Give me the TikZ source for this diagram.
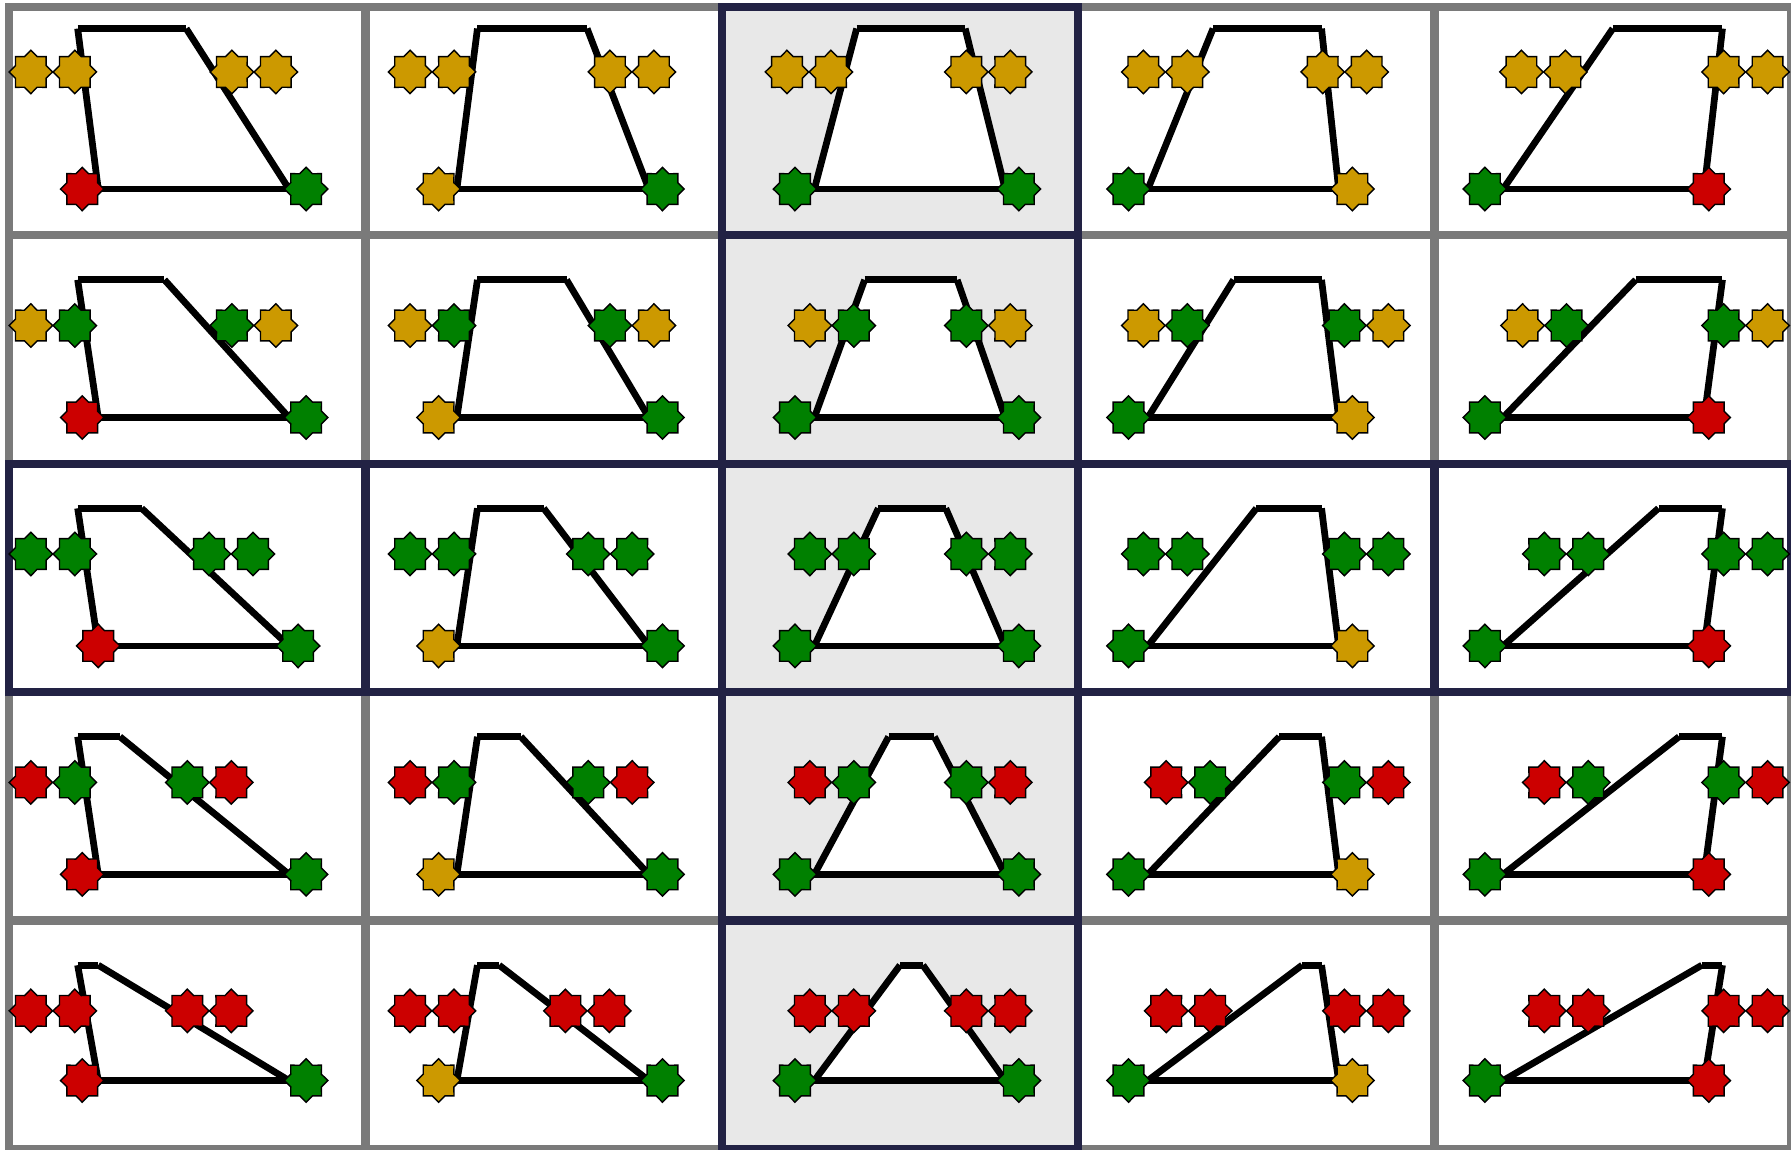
\documentclass[tikz,border=0pt]{standalone}
\usetikzlibrary{shapes.geometric}

\definecolor{lampgold}{RGB}{204,153,0}
\definecolor{lampgreen}{RGB}{0,128,0}
\definecolor{lampred}{RGB}{204,0,0}
\definecolor{framegrey}{RGB}{122,122,122}
\definecolor{framenavy}{RGB}{34,34,68}
\definecolor{colshade}{RGB}{232,232,232}

\tikzset{
  lamp/.style={star, star points=8, star point ratio=1.31, minimum size=0.38cm,
    inner sep=0pt, draw=black, line width=0.35pt, fill=#1},
  rail/.style={line width=0.059cm, black},
  frame/.style={line width=0.073cm, draw=#1},
}

\begin{document}
\begin{tikzpicture}[x=0.01cm, y=-0.01cm]
% Parameters
\def\cellw{312}
\def\cellh{200}
\def\pairgap{38.5}

\useasboundingbox (0,0) rectangle (1568,1006);

% Shaded middle column
\foreach \r in {0,...,4}
  \fill[colshade] (8+2*\cellw, 6+\r*\cellh) rectangle ++(\cellw,\cellh);

% Grey frame round every cell
\foreach \r in {0,...,4} {
  \foreach \c in {0,...,4} {
    \draw[frame=framegrey] (8+\c*\cellw, 6+\r*\cellh) rectangle ++(\cellw,\cellh);
  }
}

% Dark frames on the middle row and the middle column
\foreach \k in {0,...,4} {
  \draw[frame=framenavy] (8+\k*\cellw, 6+2*\cellh) rectangle ++(\cellw,\cellh);
  \draw[frame=framenavy] (8+2*\cellw, 6+\k*\cellh) rectangle ++(\cellw,\cellh);
}

% One trapezoid per cell
% row/col/top left/top right/left pair/right pair/bottom left lamp/bottom right lamp
\foreach \r/\c/\tl/\tr/\pl/\pr/\sl/\sr in {
    0/0/60/155/19/195/64/260, 0/1/98/194/39/214/64/260, 0/2/118/213/57/214/64/260,
    0/3/118/213/57/214/44/240, 0/4/156/252/76/253/44/240,
    1/0/60/136/19/195/64/260, 1/1/98/176/39/214/64/260, 1/2/125/206/77/214/64/260,
    1/3/136/213/57/233/44/240, 1/4/176/252/77/253/44/240,
    2/0/60/116/19/175/78/253, 2/1/98/156/39/195/64/260, 2/2/137/196/77/214/64/260,
    2/3/156/213/57/233/44/240, 2/4/196/252/96/253/44/240,
    3/0/60/97/19/156/64/260, 3/1/98/136/39/195/64/260, 3/2/146/186/77/214/64/260,
    3/3/176/213/77/233/44/240, 3/4/214/252/96/253/44/240,
    4/0/60/78/19/156/64/260, 4/1/98/117/39/175/64/260, 4/2/156/176/77/214/64/260,
    4/3/196/213/77/233/44/240, 4/4/234/252/96/253/44/240} {
  % heights and top lamp colours depend on the row
  \ifcase\r\relax
    \def\yt{19}\def\ys{57}\def\yb{159.5}\def\outcol{lampgold}\def\incol{lampgold}
  \or
    \def\yt{39}\def\ys{79}\def\yb{159.5}\def\outcol{lampgold}\def\incol{lampgreen}
  \or
    \def\yt{39}\def\ys{79}\def\yb{159.5}\def\outcol{lampgreen}\def\incol{lampgreen}
  \or
    \def\yt{39}\def\ys{79}\def\yb{159.5}\def\outcol{lampred}\def\incol{lampgreen}
  \else
    \def\yt{39}\def\ys{79}\def\yb{140}\def\outcol{lampred}\def\incol{lampred}
  \fi
  % bottom corners and bottom lamp colours depend on the column
  \ifcase\c\relax
    \def\bl{78}\def\br{245}\def\lcol{lampred}\def\rcol{lampgreen}
  \or
    \def\bl{80}\def\br{248}\def\lcol{lampgold}\def\rcol{lampgreen}
  \or
    \def\bl{81}\def\br{248}\def\lcol{lampgreen}\def\rcol{lampgreen}
  \or
    \def\bl{61}\def\br{228}\def\lcol{lampgreen}\def\rcol{lampgold}
  \else
    \def\bl{60}\def\br{236}\def\lcol{lampgreen}\def\rcol{lampred}
  \fi
  \begin{scope}[shift={(8+\c*\cellw, 6+\r*\cellh)}]
    \coordinate (tl-\r-\c) at (\tl,\yt);
    \coordinate (tr-\r-\c) at (\tr,\yt);
    \coordinate (bl-\r-\c) at (\bl,\yb);
    \coordinate (br-\r-\c) at (\br,\yb);

    % White inside, then the four sides
    \fill[white] (tl-\r-\c) -- (tr-\r-\c) -- (br-\r-\c) -- (bl-\r-\c) -- cycle;
    \draw[rail] (tl-\r-\c) -- (tr-\r-\c);
    \draw[rail] (tr-\r-\c) -- (br-\r-\c);
    \draw[rail] (bl-\r-\c) -- (br-\r-\c);
    \draw[rail] (tl-\r-\c) -- (bl-\r-\c);

    % Lamp pairs at the top
    \node[lamp=\outcol] (lamp-\r-\c-a) at (\pl,\ys) {};
    \node[lamp=\incol] (lamp-\r-\c-b) at (\pl+\pairgap,\ys) {};
    \node[lamp=\incol] (lamp-\r-\c-c) at (\pr,\ys) {};
    \node[lamp=\outcol] (lamp-\r-\c-d) at (\pr+\pairgap,\ys) {};

    % Lamps on the bottom corners
    \node[lamp=\lcol] (lamp-\r-\c-l) at (\sl,\yb) {};
    \node[lamp=\rcol] (lamp-\r-\c-r) at (\sr,\yb) {};
  \end{scope}
}
\end{tikzpicture}
\end{document}
